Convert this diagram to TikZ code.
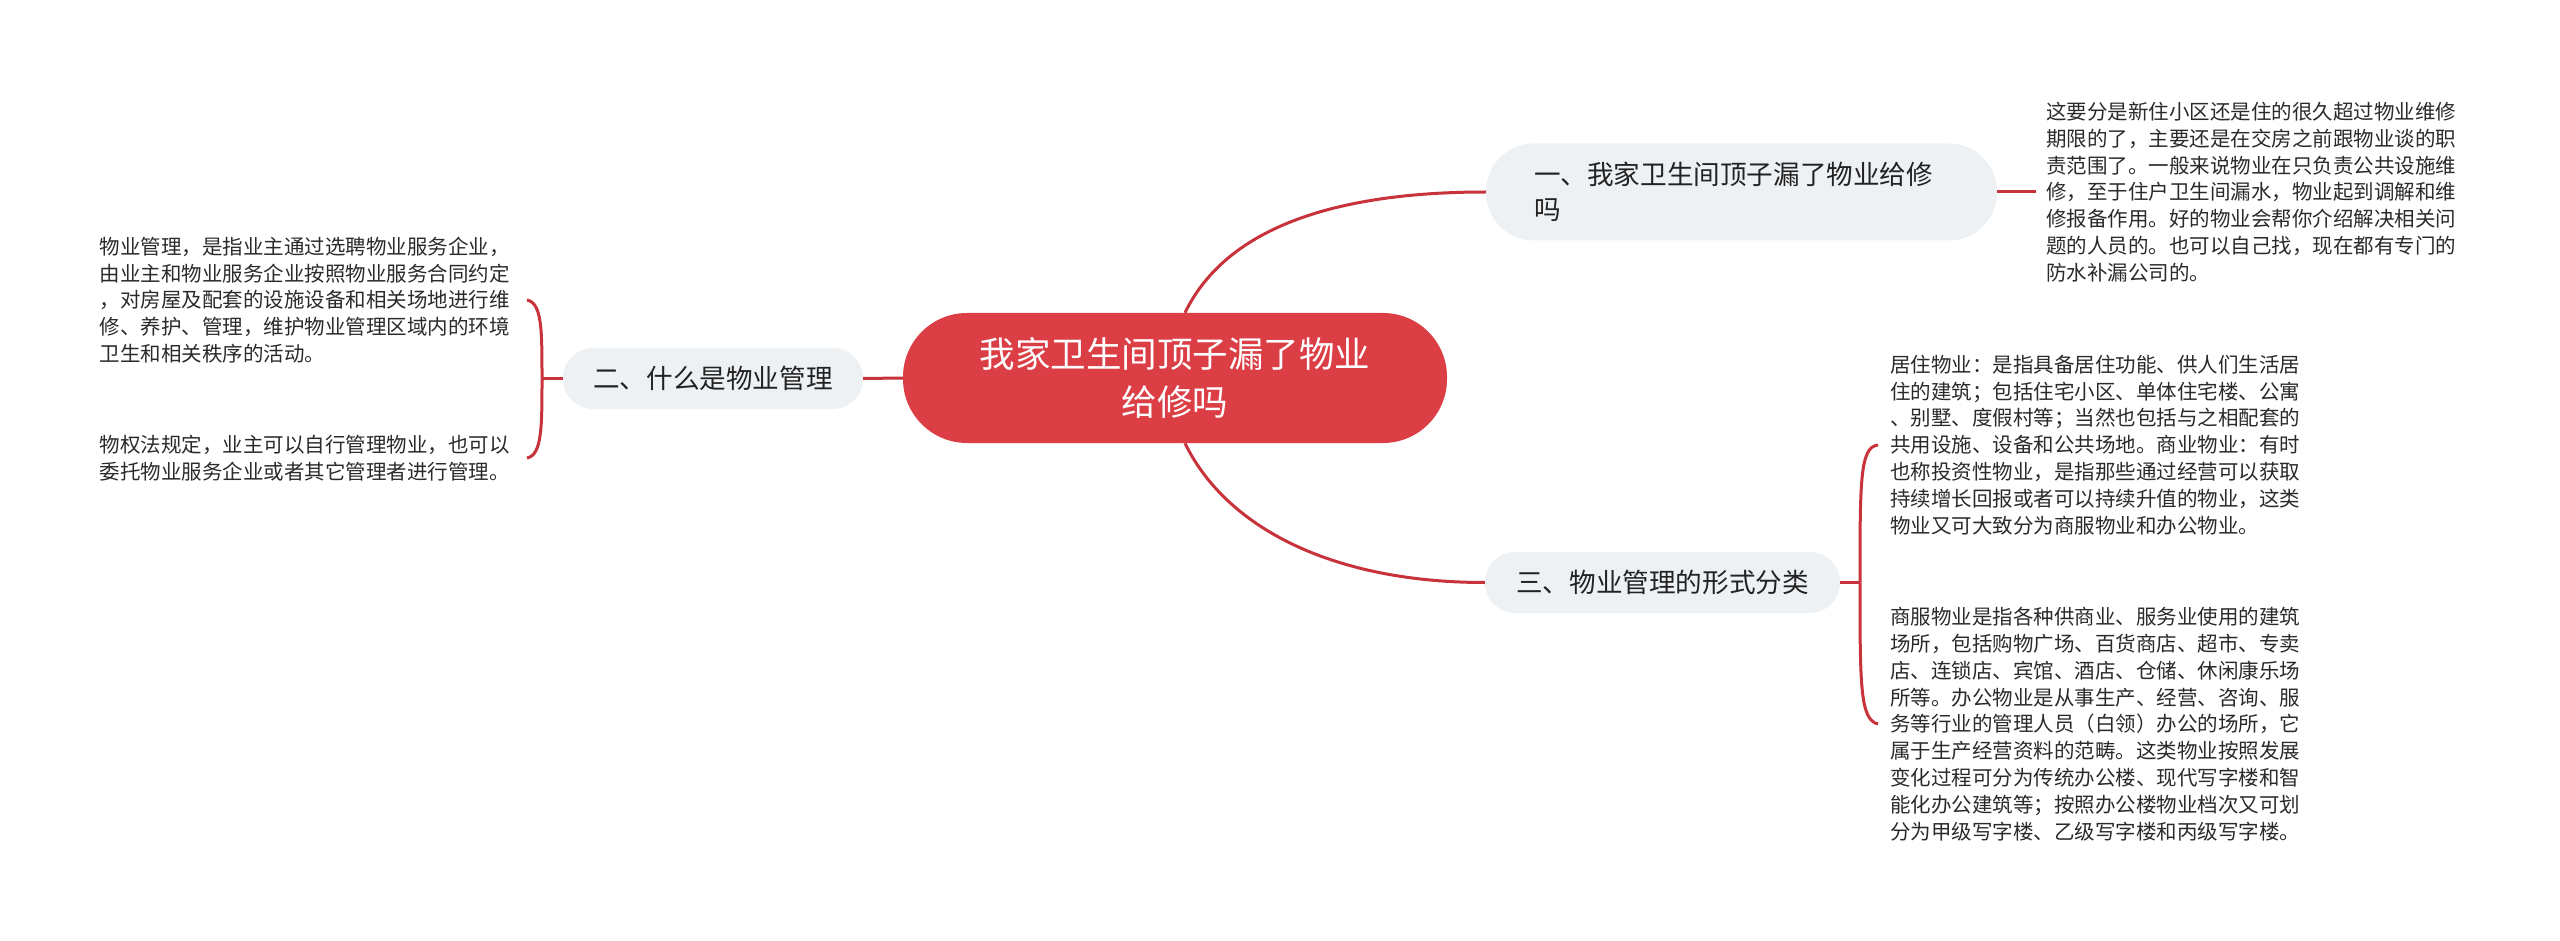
\documentclass[tikz,border=0pt]{standalone}
\usepackage{fontspec}
\newfontfamily\cjk{Noto Sans CJK SC}
\definecolor{mainred}{HTML}{DC3E46}
\definecolor{linered}{HTML}{C8323B}
\definecolor{subfill}{HTML}{EEF1F4}
\definecolor{txt}{HTML}{222222}
\definecolor{leaftxt}{HTML}{2A2A2A}
\begin{document}
\begin{tikzpicture}[x=1pt,y=-1pt,
  conn/.style={draw=linered, line width=3pt},
  rootbox/.style={fill=mainred, text=white, rounded corners=64pt, minimum width=544pt, minimum height=130pt, inner sep=0pt, align=center, font=\cjk\fontsize{35.5}{48}\selectfont},
  subbox/.style={fill=subfill, text=txt, inner sep=0pt, font=\cjk\fontsize{26.6}{35}\selectfont},
  leaf/.style={text=leaftxt, inner ysep=0pt, align=left, font=\cjk\fontsize{20.5}{26.8}\selectfont}]
\useasboundingbox (0,0) rectangle (2560,941);

\node[rootbox] (root) at (1175,378) {我家卫生间顶子漏了物业\\给修吗};

\node[subbox, rounded corners=48pt, minimum width=511pt, minimum height=97pt, text width=415pt, align=left] (n1) at (1741.5,192) {一、我家卫生间顶子漏了物业给修\\吗};
\node[subbox, rounded corners=30pt, minimum width=300pt, minimum height=61pt] (n2) at (713,378.5) {二、什么是物业管理};
\node[subbox, rounded corners=30pt, minimum width=355pt, minimum height=61pt] (n3) at (1662.5,582.5) {三、物业管理的形式分类};

\node[leaf, inner xsep=10pt, anchor=west] (l1) at (2036,192) {这要分是新住小区还是住的很久超过物业维修\\期限的了，主要还是在交房之前跟物业谈的职\\责范围了。一般来说物业在只负责公共设施维\\修，至于住户卫生间漏水，物业起到调解和维\\修报备作用。好的物业会帮你介绍解决相关问\\题的人员的。也可以自己找，现在都有专门的\\防水补漏公司的。};

\node[leaf, inner xsep=17pt, anchor=east] (l2a) at (527,300) {物业管理，是指业主通过选聘物业服务企业，\\由业主和物业服务企业按照物业服务合同约定\\，对房屋及配套的设施设备和相关场地进行维\\修、养护、管理，维护物业管理区域内的环境\\卫生和相关秩序的活动。};
\node[leaf, inner xsep=17pt, anchor=east] (l2b) at (527,458) {物权法规定，业主可以自行管理物业，也可以\\委托物业服务企业或者其它管理者进行管理。};

\node[leaf, inner xsep=12pt, anchor=west] (l3a) at (1878,445) {居住物业：是指具备居住功能、供人们生活居\\住的建筑；包括住宅小区、单体住宅楼、公寓\\、别墅、度假村等；当然也包括与之相配套的\\共用设施、设备和公共场地。商业物业：有时\\也称投资性物业，是指那些通过经营可以获取\\持续增长回报或者可以持续升值的物业，这类\\物业又可大致分为商服物业和办公物业。};
\node[leaf, inner xsep=12pt, anchor=west] (l3b) at (1878,724) {商服物业是指各种供商业、服务业使用的建筑\\场所，包括购物广场、百货商店、超市、专卖\\店、连锁店、宾馆、酒店、仓储、休闲康乐场\\所等。办公物业是从事生产、经营、咨询、服\\务等行业的管理人员（白领）办公的场所，它\\属于生产经营资料的范畴。这类物业按照发展\\变化过程可分为传统办公楼、现代写字楼和智\\能化办公建筑等；按照办公楼物业档次又可划\\分为甲级写字楼、乙级写字楼和丙级写字楼。};

\coordinate (b2) at (542,378.5);
\coordinate (b3) at (1860,582.5);

\draw[conn] (root.west) -- (n2.east);
\draw[conn] ([xshift=10pt]root.north) .. controls (1225,230) and (1330,192) .. (n1.west);
\draw[conn] ([xshift=10pt]root.south) .. controls (1225,526) and (1330,582.5) .. (n3.west);
\draw[conn] (n1.east) -- (l1.west);

\draw[conn] (n2.west) -- (b2);
\draw[conn] (b2) .. controls (542,330) and (542,303) .. (l2a.east);
\draw[conn] (b2) .. controls (542,427) and (542,455) .. (l2b.east);

\draw[conn] (n3.east) -- (b3);
\draw[conn] (b3) .. controls (1860,480) and (1860,447) .. (l3a.west);
\draw[conn] (b3) .. controls (1860,685) and (1860,720) .. (l3b.west);
\end{tikzpicture}
\end{document}
